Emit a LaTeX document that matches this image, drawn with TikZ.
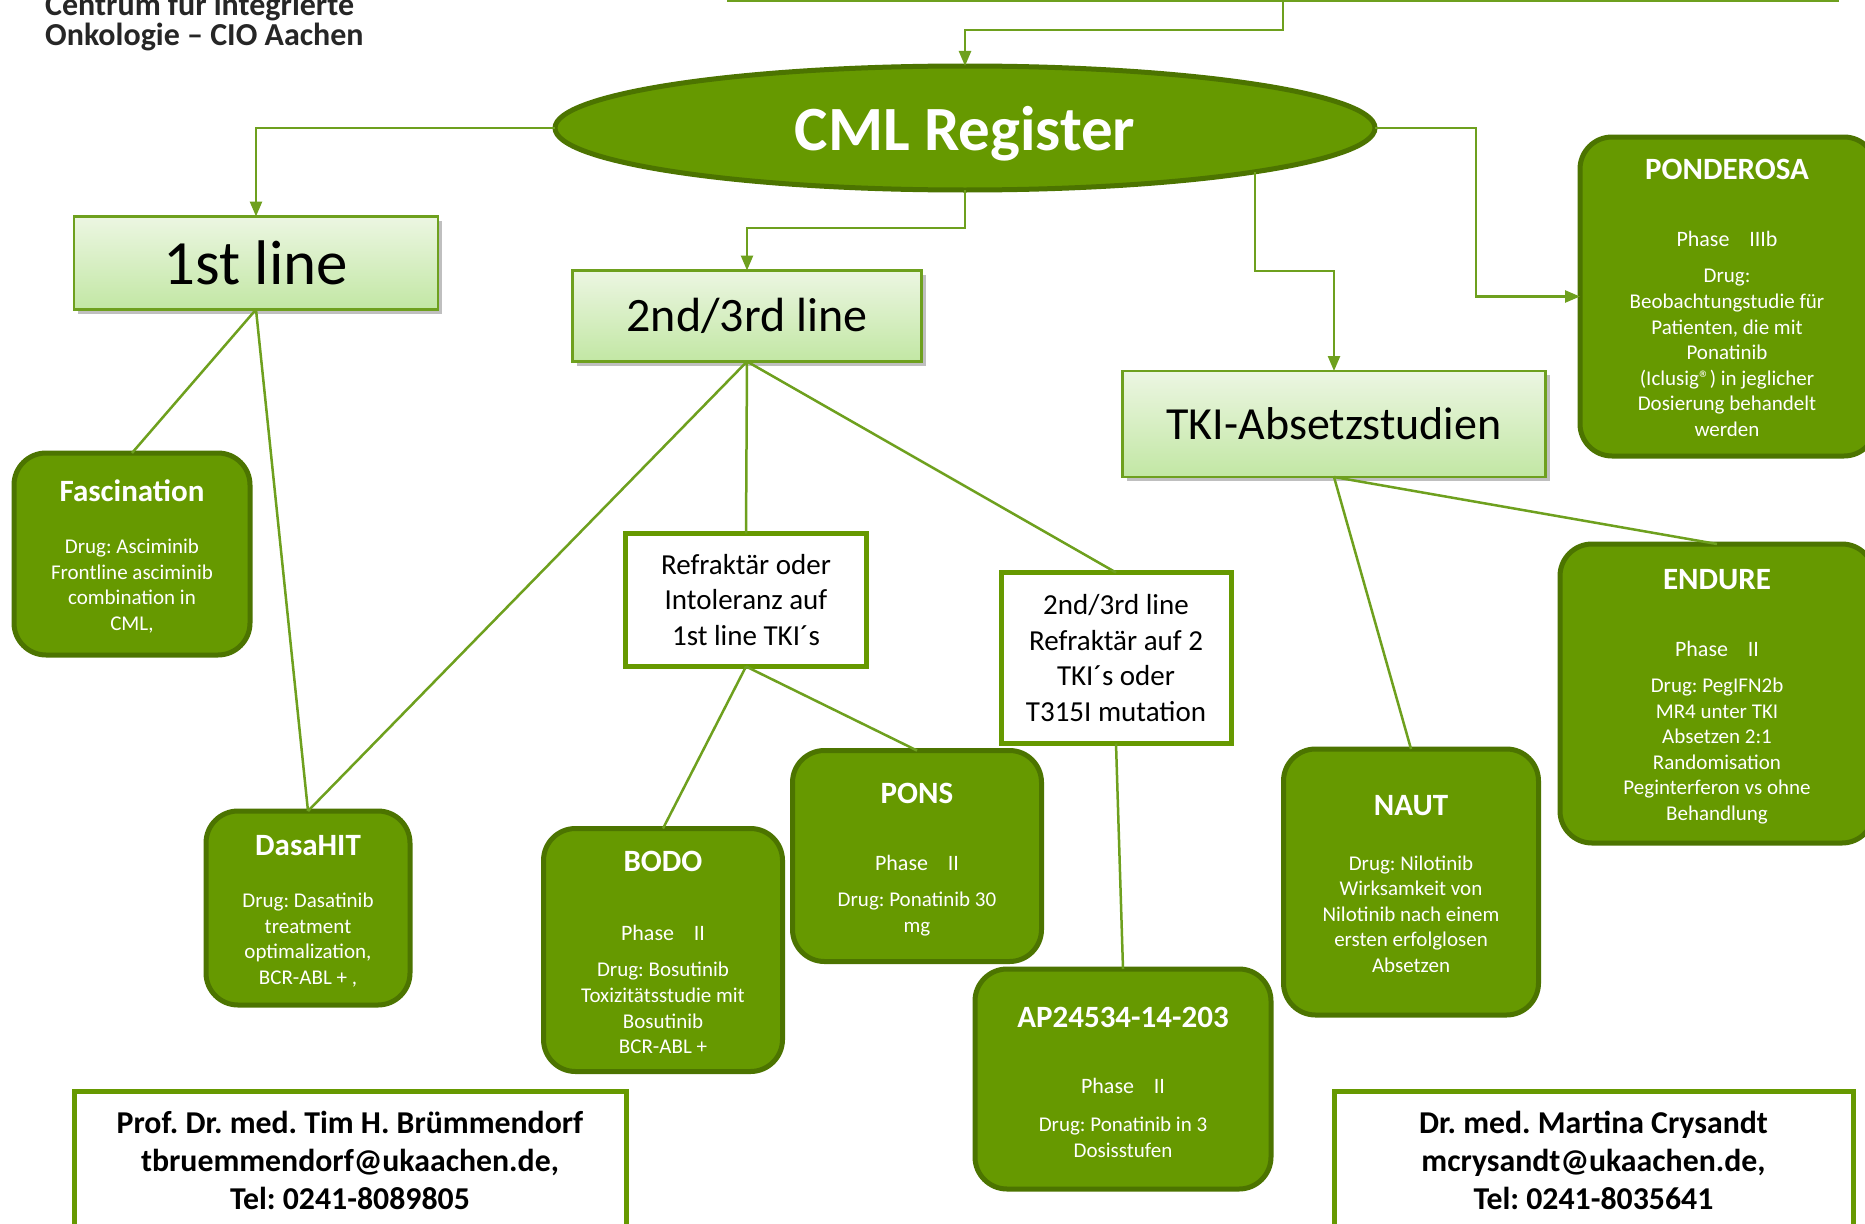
\documentclass[tikz,border=0pt]{standalone}
\usepackage{fontspec}
\setmainfont{Carlito}
\usetikzlibrary{arrows.meta,shapes.geometric,shadows}
\definecolor{gfill}{RGB}{102,153,0}
\definecolor{gdark}{RGB}{76,116,0}
\definecolor{gline}{RGB}{110,160,30}
\definecolor{ltop}{RGB}{236,246,226}
\definecolor{lbot}{RGB}{194,231,164}
\definecolor{hdrtext}{RGB}{38,38,38}
\frenchspacing
\begin{document}
\begin{tikzpicture}[x=1pt,y=-1pt,
  conn/.style={draw=gline,line width=2.5pt},
  arr/.style={conn,-{Triangle[length=15pt,width=12pt]}},
  study/.style={draw=gdark,fill=gfill,line width=5pt,rounded corners=32pt,inner sep=0pt,outer sep=0pt},
  lightbox/.style={draw=gline,line width=2.5pt,top color=ltop,bottom color=lbot,inner sep=0pt,outer sep=0pt,
     drop shadow={shadow xshift=4pt,shadow yshift=-4pt,fill=black,opacity=0.25}},
  whitebox/.style={draw=gfill,line width=5pt,fill=white,inner sep=0pt,outer sep=0pt},
  ttl/.style={text=white,font=\fontsize{31}{36}\selectfont\bfseries,inner sep=0pt},
  bdy/.style={text=white,font=\fontsize{21}{25.6}\selectfont,align=center,inner sep=0pt},
  phs/.style={text=white,font=\fontsize{22}{26}\selectfont,inner sep=0pt},
  qtxt/.style={text=black,font=\fontsize{29}{35.4}\selectfont,align=center,inner sep=0pt},
  ctxt/.style={text=black,font=\fontsize{31.8}{38}\selectfont\bfseries,align=center,inner sep=0pt}
]
\useasboundingbox (0,0) rectangle (1865,1223);
\fill[white] (0,0) rectangle (1865,1223);

% header
\node[anchor=west,align=left,text=hdrtext,font=\fontsize{32}{30}\selectfont\bfseries,inner sep=0pt] (hdr) at (45,22)
  {Centrum für integrierte\\Onkologie – CIO Aachen};

% top box (cut off)
\node[draw=gline,line width=2.5pt,fill=white,minimum width=1110pt,minimum height=80pt,inner sep=0pt,outer sep=0pt] (topbox) at (1283,-39) {};

% central ellipse
\node[ellipse,draw=gdark,fill=gfill,line width=5pt,minimum width=820pt,minimum height=124pt,inner sep=0pt,outer sep=0pt] (cml) at (965,128) {};
\node[text=white,font=\fontsize{63}{70}\selectfont\bfseries,inner sep=0pt] (cml-t) at (965,134) {CML Register};

% category boxes
\node[lightbox,minimum width=364pt,minimum height=93pt,font=\fontsize{63}{70}\selectfont] (first) at (256,263) {1st line};
\node[lightbox,minimum width=349pt,minimum height=91pt,font=\fontsize{48}{54}\selectfont] (second) at (747,316) {2nd/3rd line};
\node[lightbox,minimum width=423pt,minimum height=106pt,font=\fontsize{46}{52}\selectfont] (tki) at (1334,424) {TKI-Absetzstudien};

% white question boxes
\node[whitebox,minimum width=241pt,minimum height=133pt] (refr) at (746,600) {};
\node[qtxt] (refr-t) at (746,600) {Refraktär oder\\Intoleranz auf\\1st line TKI´s};
\node[whitebox,minimum width=230pt,minimum height=171pt] (refr2) at (1116,658) {};
\node[qtxt] (refr2-t) at (1116,658) {2nd/3rd line\\Refraktär auf 2\\TKI´s oder\\T315I mutation};

% study boxes
\node[study,minimum width=236pt,minimum height=202pt] (fasc) at (132,554) {};
\node[ttl] (fasc-t) at (132,491) {Fascination};
\node[bdy] (fasc-b) at (132,586) {Drug: Asciminib\\Frontline asciminib\\combination in\\CML,};

\node[study,minimum width=204pt,minimum height=194pt] (dasa) at (308,908) {};
\node[ttl] (dasa-t) at (308,846) {DasaHIT};
\node[bdy] (dasa-b) at (308,940) {Drug: Dasatinib\\treatment\\optimalization,\\BCR-ABL + ,};

\node[study,minimum width=239pt,minimum height=243pt] (bodo) at (663,950) {};
\node[ttl] (bodo-t) at (663,861) {BODO};
\node[phs] (bodo-p) at (663,933) {Phase\hspace{0.9em}II};
\node[bdy] (bodo-b) at (663,1008) {Drug: Bosutinib\\Toxizitätsstudie mit\\Bosutinib\\BCR-ABL +};

\node[study,minimum width=249pt,minimum height=211pt] (pons) at (917,856) {};
\node[ttl] (pons-t) at (917,793) {PONS};
\node[phs] (pons-p) at (917,863) {Phase\hspace{0.9em}II};
\node[bdy] (pons-b) at (917,914) {Drug: Ponatinib 30\\mg};

\node[study,minimum width=296pt,minimum height=220pt] (ap) at (1123,1079) {};
\node[ttl] (ap-t) at (1123,1017) {AP24534-14-203};
\node[phs] (ap-p) at (1123,1086) {Phase\hspace{0.9em}II};
\node[bdy] (ap-b) at (1123,1137) {Drug: Ponatinib in 3\\Dosisstufen};

\node[study,minimum width=255pt,minimum height=266pt] (naut) at (1411,882) {};
\node[ttl] (naut-t) at (1411,806) {NAUT};
\node[bdy] (naut-b) at (1411,914) {Drug: Nilotinib\\Wirksamkeit von\\Nilotinib nach einem\\ersten erfolglosen\\Absetzen};

\node[study,minimum width=314pt,minimum height=299pt] (endure) at (1717,693.5) {};
\node[ttl] (endure-t) at (1717,580) {ENDURE};
\node[phs] (endure-p) at (1717,649) {Phase\hspace{0.9em}II};
\node[bdy] (endure-b) at (1717,751) {Drug: PegIFN2b\\MR4 unter TKI\\Absetzen 2:1\\Randomisation\\Peginterferon vs ohne\\Behandlung};

\node[study,minimum width=296pt,minimum height=319pt] (pond) at (1728,296.5) {};
\node[ttl] (pond-t) at (1727,169) {PONDEROSA};
\node[phs] (pond-p) at (1727,239) {Phase\hspace{0.9em}IIIb};
\node[bdy] (pond-b) at (1727,353) {Drug:\\Beobachtungstudie für\\Patienten, die mit\\Ponatinib\\(Iclusig®) in jeglicher\\Dosierung behandelt\\werden};

% contact boxes
\node[whitebox,minimum width=552pt,minimum height=160pt] (cont1) at (350,1171) {};
\node[ctxt] (cont1-t) at (350,1160) {Prof. Dr. med. Tim H. Brümmendorf\\tbruemmendorf@ukaachen.de,\\Tel: 0241-8089805};
\node[whitebox,minimum width=519pt,minimum height=160pt] (cont2) at (1593.5,1171) {};
\node[ctxt] (cont2-t) at (1593.5,1160) {Dr. med. Martina Crysandt\\mcrysandt@ukaachen.de,\\Tel: 0241-8035641};

% elbow connectors with arrows
\draw[arr] (topbox.south) -- ++(0,29) -| (cml.north);
\draw[arr] (cml.west) -| (first.north);
\draw[arr] (cml.south) -- ++(0,38) -| (second.north);
\draw[arr] (cml.east) -- ++(101,0) |- (pond.west);
\draw[arr] (cml.south east) -- ++(0,99) -| (tki.north);

% straight connectors
\draw[conn] (first.south) -- (fasc.north);
\draw[conn] (first.south) -- (dasa.north);
\draw[conn] (second.south) -- (dasa.north);
\draw[conn] (second.south) -- (refr.north);
\draw[conn] (second.south) -- (refr2.north);
\draw[conn] (refr.south) -- (bodo.north);
\draw[conn] (refr.south) -- (pons.north);
\draw[conn] (refr2.south) -- (ap.north);
\draw[conn] (tki.south) -- (naut.north);
\draw[conn] (tki.south) -- (endure.north);
\end{tikzpicture}
\end{document}
